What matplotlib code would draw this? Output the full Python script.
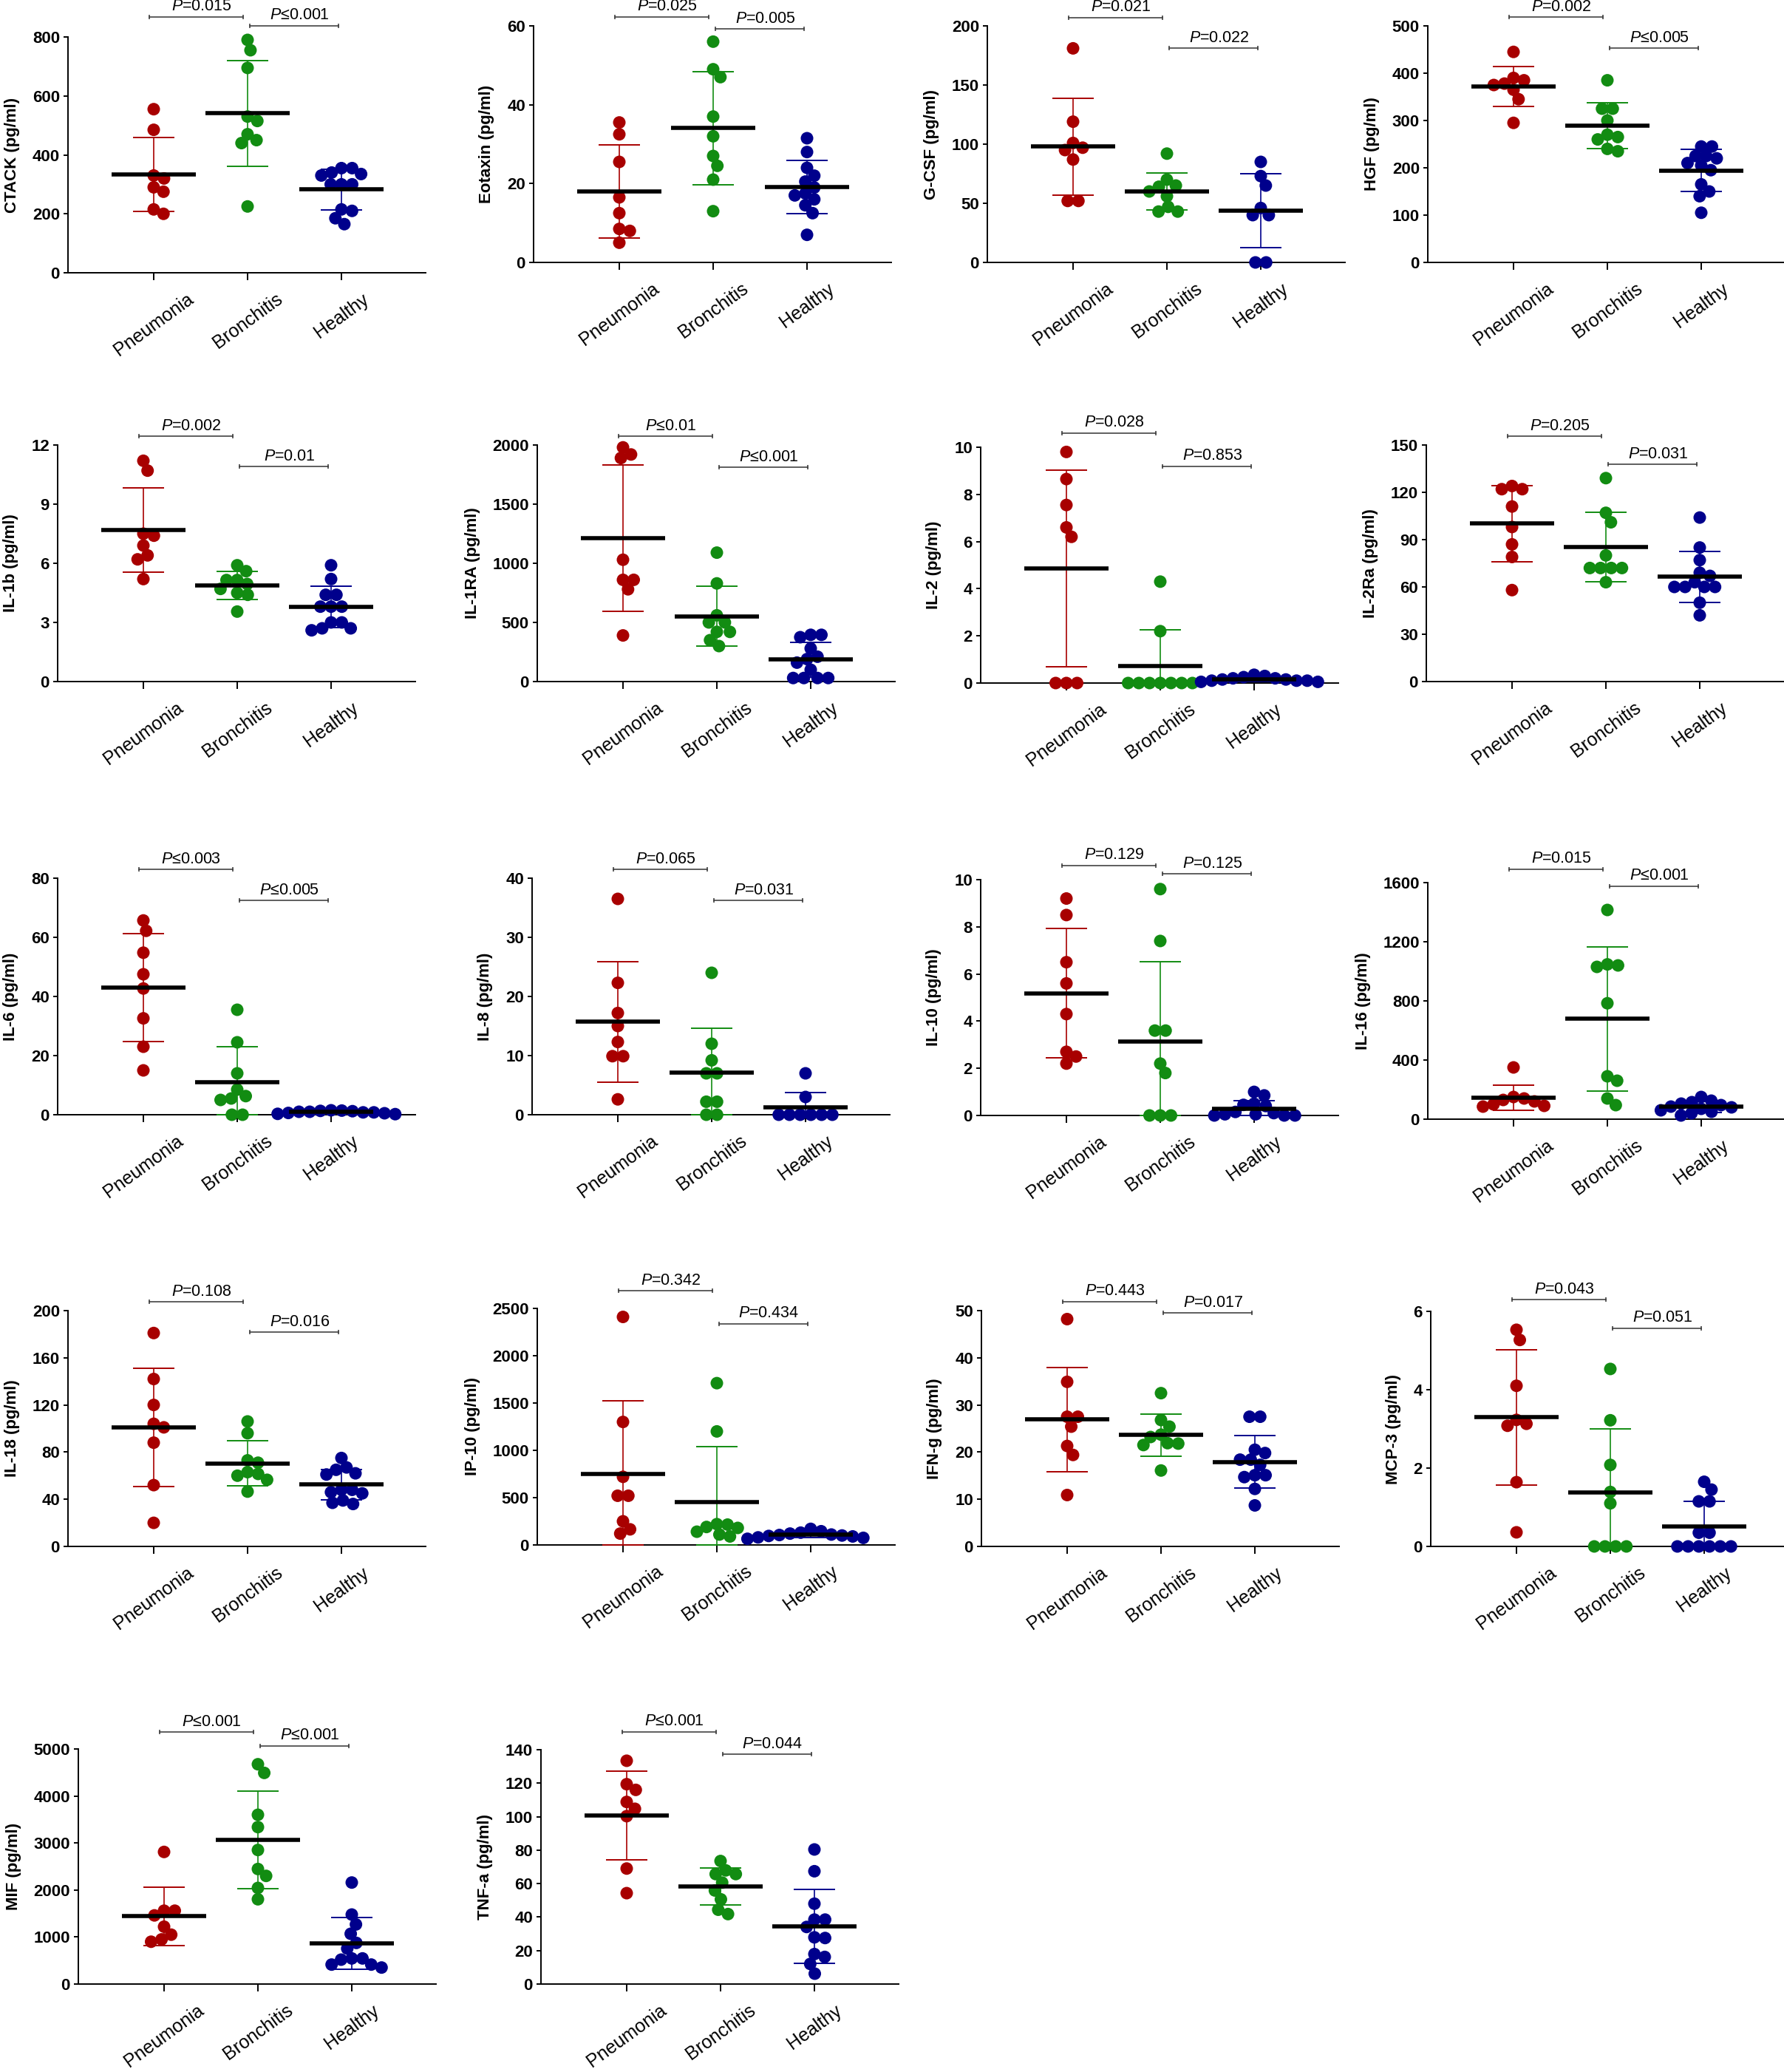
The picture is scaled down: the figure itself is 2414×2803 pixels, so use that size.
import numpy as np
import matplotlib
matplotlib.use("Agg")
import matplotlib.pyplot as plt

plt.rcParams['font.family'] = ['Liberation Sans', 'DejaVu Sans']
plt.rcParams['mathtext.fontset'] = 'custom'
plt.rcParams['mathtext.it'] = 'Liberation Sans:italic'
plt.rcParams['mathtext.rm'] = 'Liberation Sans'

groups = ["Pneumonia", "Bronchitis", "Healthy"]
colors = ["#A80000", "#128C12", "#00008C"]

cytokines = ["CTACK", "Eotaxin", "G-CSF", "HGF",
             "IL-1b", "IL-1RA", "IL-2", "IL-2Ra",
             "IL-6", "IL-8", "IL-10", "IL-16",
             "IL-18", "IP-10", "IFN-g", "MCP-3",
             "MIF", "TNF-a"]

y_max = [800, 60, 200, 500, 12, 2000, 10, 150, 80, 40, 10, 1600,
         200, 2500, 50, 6, 5000, 140]
y_step = [200, 20, 50, 100, 3, 500, 2, 30, 20, 10, 2, 400,
          40, 500, 10, 2, 1000, 20]

pneumonia = [
    [555, 485, 330, 320, 290, 275, 215, 200],
    [35.5, 32.5, 25.5, 16.5, 12.5, 8.5, 8, 5],
    [181, 119, 101, 97, 95, 87, 52, 52],
    [445, 390, 385, 378, 375, 365, 345, 295],
    [11.2, 10.7, 7.5, 7.4, 6.9, 6.4, 6.2, 5.2],
    [1980, 1920, 1890, 1030, 860, 860, 780, 390],
    [9.8, 8.65, 7.55, 6.6, 6.2, 0, 0, 0],
    [124, 122, 122, 111, 98, 87, 79, 58],
    [65.7, 62.2, 54.8, 47.5, 42.7, 32.6, 23, 15],
    [36.5, 22.3, 17.2, 15, 12.3, 9.9, 9.9, 2.6],
    [9.2, 8.5, 6.5, 5.6, 4.3, 2.7, 2.5, 2.2],
    [350, 150, 140, 130, 120, 100, 90, 85],
    [181, 142, 120, 104, 101, 88, 52, 20],
    [2410, 1300, 720, 520, 520, 250, 165, 120],
    [48.2, 34.9, 27.5, 27.5, 25.4, 21.3, 19.4, 10.9],
    [5.53, 5.27, 4.1, 3.23, 3.13, 3.08, 1.64, 0.36],
    [2810, 1560, 1560, 1460, 1220, 1050, 950, 900],
    [133.4, 119.4, 116, 108.8, 104.7, 100.3, 69, 54.3],
]

bronchitis = [
    [790, 755, 695, 530, 515, 470, 450, 440, 225],
    [56, 49, 47, 37, 32, 27, 24.5, 21, 13],
    [92, 70, 65, 64, 60, 56, 47, 43, 43],
    [385, 325, 325, 300, 270, 265, 260, 240, 235],
    [5.9, 5.6, 5.15, 5.15, 4.95, 4.7, 4.5, 4.4, 3.55],
    [1090, 830, 560, 500, 500, 420, 420, 350, 300],
    [4.3, 2.2, 0, 0, 0, 0, 0, 0, 0],
    [129, 107, 101, 80, 72, 72, 72, 72, 63],
    [35.5, 24.5, 14, 8.5, 6.3, 5, 5.5, 0, 0],
    [24, 12, 9.2, 7, 7, 2.2, 2.2, 0, 0],
    [9.6, 7.4, 3.6, 3.6, 2.2, 1.8, 0, 0, 0],
    [1415, 1047, 1040, 1030, 784, 290, 260, 140, 95],
    [106, 96, 73, 71, 63, 61.5, 60, 56.5, 46.5],
    [1710, 1200, 220, 215, 190, 180, 140, 110, 90],
    [32.5, 26.8, 25.4, 23.7, 23.2, 21.9, 21.8, 21.5, 16.1],
    [4.53, 3.22, 2.08, 1.39, 1.1, 0, 0, 0, 0],
    [4675, 4491, 3600, 3338, 2851, 2447, 2300, 2044, 1803],
    [73.5, 67.9, 65.7, 65.7, 60.6, 55.9, 50.6, 44.4, 41.8],
]

healthy = [
    [355, 355, 340, 335, 330, 300, 300, 300, 215, 210, 185, 165],
    [31.5, 28, 24, 22, 20.5, 19, 17.5, 17, 16, 14.5, 12.5, 7],
    [85, 73, 65, 46, 40, 40, 0, 0],
    [245, 245, 225, 225, 220, 210, 205, 195, 165, 150, 140, 105],
    [5.9, 5.2, 4.4, 4.4, 3.8, 3.8, 3.8, 3.0, 3.0, 2.7, 2.6, 2.7],
    [395, 375, 395, 280, 190, 160, 210, 100, 30, 30, 30, 30],
    [0.3, 0.25, 0.2, 0.35, 0.15, 0.1, 0.05, 0.1, 0.2, 0.1, 0.05, 0.15],
    [104, 85, 77, 69, 67, 63, 60, 60, 60, 60, 50, 42],
    [1.5, 1.2, 1.0, 0.8, 0.5, 0.3, 1.4, 1.0, 0.6, 0.2, 0.8, 1.3],
    [7, 3, 0, 0, 0, 0, 0, 0],
    [1.0, 0.85, 0.5, 0.45, 0.4, 0.15, 0.1, 0.05, 0.05, 0, 0, 0],
    [150, 125, 115, 105, 95, 85, 80, 70, 60, 50, 40, 25],
    [75, 67, 65, 62, 61, 48, 48, 46, 45, 39, 37, 36],
    [170, 145, 130, 120, 110, 105, 100, 95, 90, 80, 75, 65],
    [27.5, 27.5, 20.5, 19.8, 18.4, 18.4, 17.3, 15.1, 15.1, 14.7, 12.2, 8.7],
    [1.65, 1.45, 1.15, 1.15, 0.35, 0.35, 0, 0, 0, 0, 0, 0],
    [2159, 1478, 1268, 1069, 875, 755, 545, 545, 519, 414, 414, 351],
    [80.4, 67.4, 48, 38.5, 38.5, 34.1, 27.5, 27.9, 17.9, 16.2, 12, 6.2],
]

p_pneu_bron = ["=0.015", "=0.025", "=0.021", "=0.002", "=0.002", "\u22640.01",
               "=0.028", "=0.205", "\u22640.003", "=0.065", "=0.129", "=0.015",
               "=0.108", "=0.342", "=0.443", "=0.043", "\u22640.001", "\u22640.001"]
p_bron_heal = ["\u22640.001", "=0.005", "=0.022", "\u22640.005", "=0.01", "\u22640.001",
               "=0.853", "=0.031", "\u22640.005", "=0.031", "=0.125", "\u22640.001",
               "=0.016", "=0.434", "=0.017", "=0.051", "\u22640.001", "=0.044"]

# height of the two comparison brackets, in data units of each panel
bracket1_y = [868, 62.3, 207, 518, 12.45, 2075, 10.6, 155.6, 83, 41.5, 10.6, 1690,
              207.5, 2687, 51.9, 6.3, 5361, 150.6]
bracket2_y = [838, 59.2, 181, 453, 10.9, 1812, 9.2, 137.8, 72.5, 36.25, 10.25, 1575,
              181.8, 2336, 49.5, 5.57, 5063, 137.3]

# panel placement in pixels: y-axis x, pixel of y=0, pixel of y=max
layout = [(92, 369, 50), (722, 355, 35), (1336, 355, 35), (1932, 355, 35),
          (78, 922, 602), (727, 922, 602), (1327, 924, 605), (1930, 922, 602),
          (78, 1508, 1188), (720, 1508, 1188), (1327, 1509, 1190), (1932, 1514, 1194),
          (92, 2092, 1773), (727, 2090, 1770), (1328, 2092, 1773), (1936, 2092, 1774),
          (106, 2684, 2366), (732, 2684, 2367)]

W, H = 2414, 2803
AX_W = 484
CAT = 127.0      # pixels between categories
OFF0 = 116.0     # pixels from y-axis to first category
DOT = 17.0       # marker diameter, px
GAP = 14.5       # minimum distance between dot centres, px (slight overlap)


def swarm(vals, ppx, ppy, d):
    vals = np.asarray(vals, float)
    ys = vals * ppy
    offs = np.zeros(len(vals))
    placed = []
    for i in np.argsort(-vals, kind="stable"):
        y = ys[i]
        cands = [0.0]
        for xo, yo in placed:
            dy = abs(y - yo)
            if dy < d:
                dx = np.sqrt(d * d - dy * dy)
                cands += [xo + dx, xo - dx]
        cands.sort(key=lambda c: (round(abs(c), 6), c < 0))
        for c in cands:
            if all((c - xo) ** 2 + (y - yo) ** 2 >= d * d - 1e-6 for xo, yo in placed):
                break
        placed.append((c, y))
        offs[i] = c
    # an isolated row of identical values is centred on the category
    for v in np.unique(vals):
        idx = np.where(vals == v)[0]
        near = np.abs(ys - v * ppy) < d
        if len(idx) > 1 and near.sum() == len(idx):
            offs[idx] -= offs[idx].mean()
    return offs / ppx


fig = plt.figure(figsize=(W / 100, H / 100), dpi=100)

for k, name in enumerate(cytokines):
    left, y0, ytop = layout[k]
    ax = fig.add_axes([left / W, 1 - y0 / H, AX_W / W, (y0 - ytop) / H])
    ymax = y_max[k]
    ppy = (y0 - ytop) / ymax
    ax.set_xlim(-OFF0 / CAT, (AX_W - OFF0) / CAT)
    ax.set_ylim(0, ymax)

    for g, vals in enumerate([pneumonia[k], bronchitis[k], healthy[k]]):
        vals = np.asarray(vals, float)
        xs = g + swarm(vals, CAT, ppy, GAP)
        ax.scatter(xs, vals, s=(DOT * 0.72) ** 2, color=colors[g], edgecolors='none',
                   zorder=3, clip_on=False)
        m = vals.mean()
        sd = vals.std(ddof=1)
        lo, hi = max(m - sd, 0), m + sd
        ax.vlines(g, lo, hi, color=colors[g], lw=1.2, zorder=4, clip_on=False)
        ax.hlines([lo, hi], g - 0.22, g + 0.22, color=colors[g], lw=1.4, zorder=4,
                  clip_on=False)
        ax.hlines(m, g - 0.45, g + 0.45, color='black', lw=4.0, zorder=5, clip_on=False)

    tk = 3.0 / ppy
    for (a, b), yb, lab in [((-0.05, 0.95), bracket1_y[k], p_pneu_bron[k]),
                            ((1.02, 1.97), bracket2_y[k], p_bron_heal[k])]:
        ax.plot([a, b], [yb, yb], color='#333333', lw=1.1, clip_on=False)
        ax.vlines([a, b], yb - tk, yb + tk, color='#333333', lw=1.1, clip_on=False)
        ax.text((a + b) / 2 + 0.06, yb + 3.5 / ppy, r'$\mathit{P}$' + lab,
                ha='center', va='bottom', fontsize=15.5)

    ax.set_yticks(np.arange(0, ymax + y_step[k] / 2, y_step[k]))
    ax.set_xticks(range(3))
    ax.set_xticklabels(groups, rotation=36, fontsize=18)
    for t in ax.get_yticklabels():
        t.set_fontweight('bold')
        t.set_fontsize(16)
    ax.tick_params(axis='x', length=7, width=1.4, pad=10)
    ax.tick_params(axis='y', length=4.5, width=1.4, pad=3.5)
    ax.set_ylabel(name + " (pg/ml)", fontsize=16, fontweight='bold', labelpad=12)
    for s in ['top', 'right']:
        ax.spines[s].set_visible(False)
    for s in ['left', 'bottom']:
        ax.spines[s].set_linewidth(1.4)

fig.savefig("out.png", dpi=100)
